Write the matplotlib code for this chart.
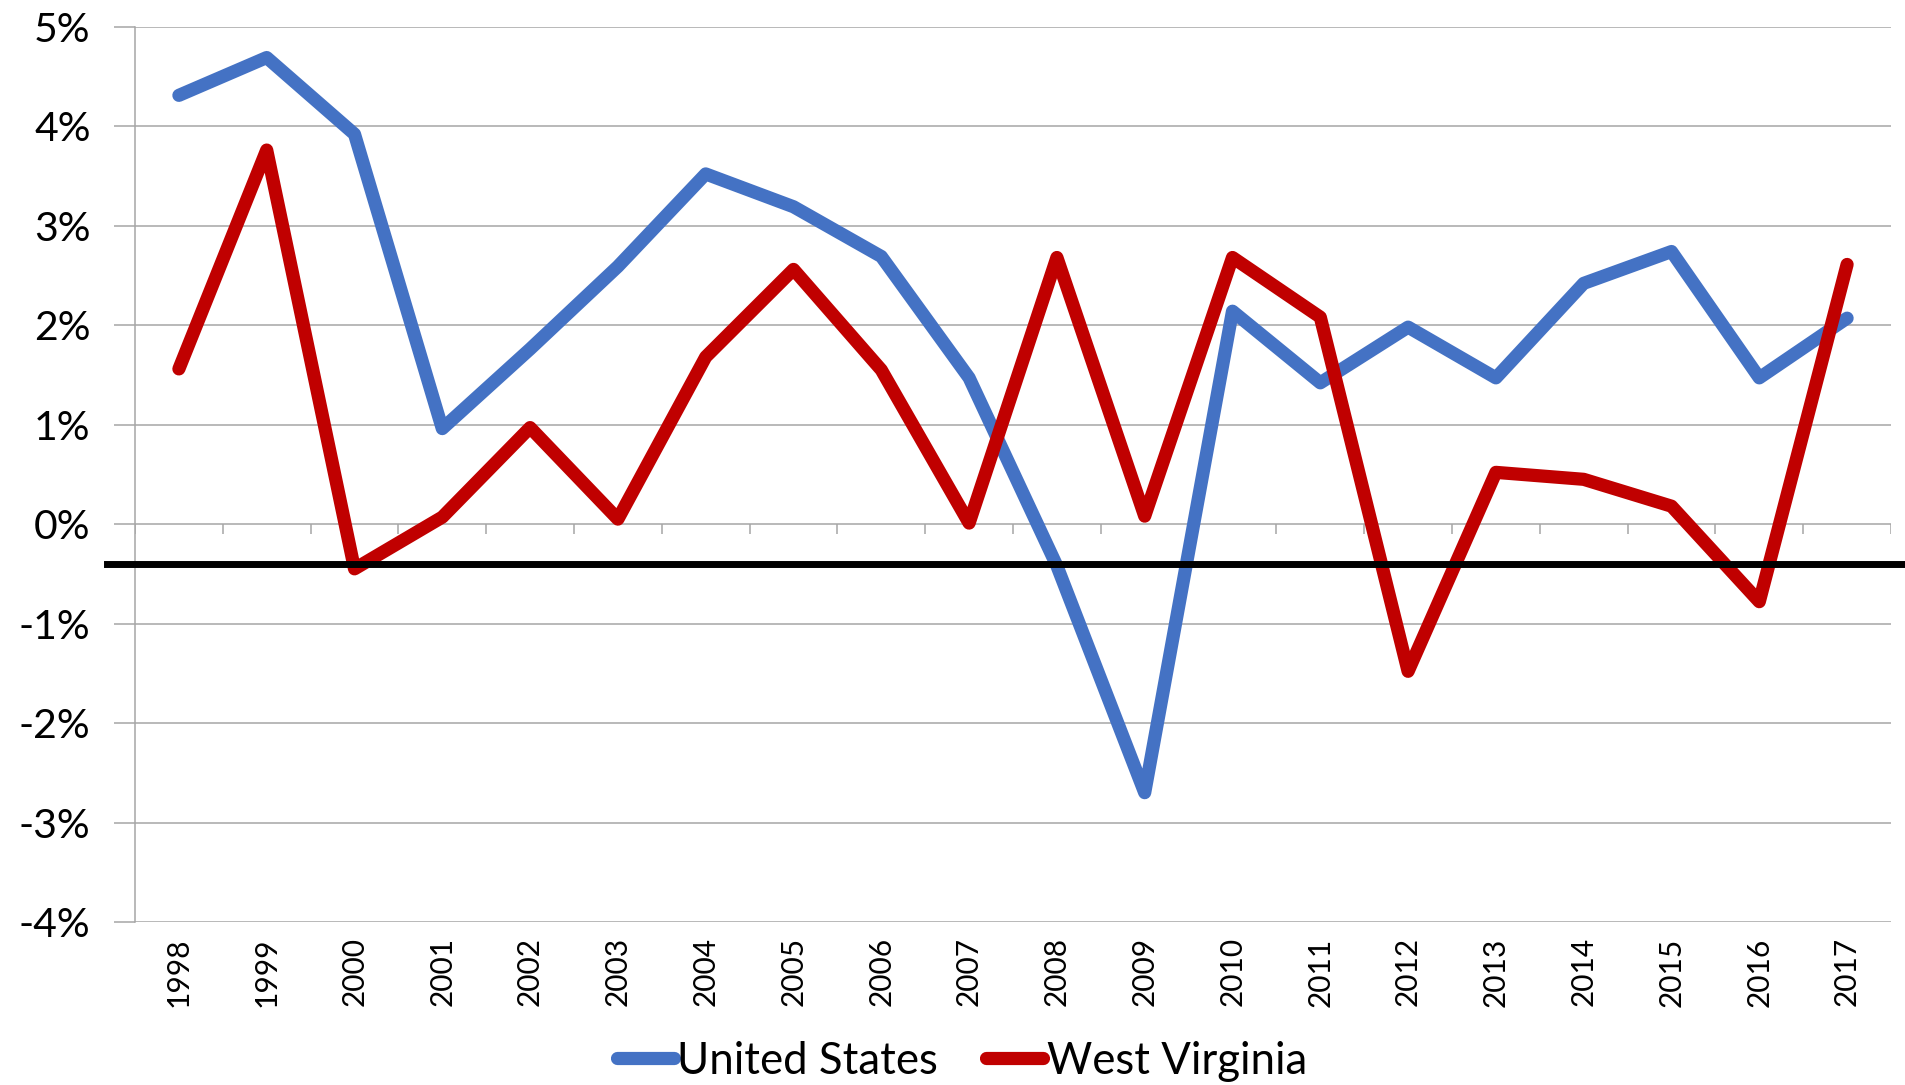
import matplotlib
matplotlib.use('Agg')
import matplotlib.pyplot as plt
from matplotlib.ticker import FuncFormatter

# annual growth, percent
years = [str(y) for y in range(1998, 2018)]
us_growth = [4.31, 4.69, 3.92, 0.96, 1.76, 2.59, 3.52, 3.19, 2.69, 1.47,
             -0.42, -2.70, 2.14, 1.42, 1.98, 1.47, 2.42, 2.74, 1.47, 2.07]
wv_growth = [1.56, 3.76, -0.45, 0.07, 0.97, 0.05, 1.68, 2.56, 1.55, 0.01,
             2.68, 0.08, 2.68, 2.08, -1.48, 0.52, 0.45, 0.18, -0.78, 2.61]
series_names = ['United States', 'West Virginia']
reference_level = -0.4

BLUE = '#4472C4'
RED = '#C00000'
GRID = '#A6A6A6'

plt.rcParams['font.family'] = ['Lato', 'DejaVu Sans']

fig = plt.figure(figsize=(19.05, 10.85), dpi=100)
ax = fig.add_axes([135 / 1905, 1 - 922 / 1085, 1756 / 1905, (922 - 26.7) / 1085])

x = list(range(len(years)))
line_kw = dict(linewidth=9.5, solid_capstyle='round', solid_joinstyle='round')
ax.plot(x, us_growth, color=BLUE, label=series_names[0], zorder=3, **line_kw)
ax.plot(x, wv_growth, color=RED, label=series_names[1], zorder=3, **line_kw)

# black reference line that runs past the plot area
ax.axhline(reference_level, xmin=-0.016, xmax=1.01, color='black',
           linewidth=5, clip_on=False, zorder=4)

ax.set_xlim(-0.5, len(years) - 0.5)
ax.set_ylim(-4, 5)
ax.set_yticks(range(-4, 6))
ax.yaxis.set_major_formatter(FuncFormatter(lambda v, p: f'{int(v)}%'))
ax.grid(axis='y', color=GRID, linewidth=1.1)
ax.set_axisbelow(True)

for side in ['top', 'right', 'bottom']:
    ax.spines[side].set_visible(False)
ax.spines['left'].set_color(GRID)
ax.spines['left'].set_linewidth(1.1)

ax.tick_params(axis='y', length=15, width=1.1, color=GRID, pad=17,
               labelsize=29.5)
ax.set_xticks(x)
ax.set_xticklabels(years, rotation=90, fontsize=21.5, va='top')
ax.tick_params(axis='x', length=0, pad=11)

# category axis tick marks along the 0% line
bounds = [i - 0.5 for i in range(len(years) + 1)]
ax.vlines(bounds, -0.1, 0, color=GRID, linewidth=1.1, zorder=2)

leg = fig.legend(loc='center', bbox_to_anchor=(0.505, 0.022), ncol=2,
                 frameon=False, fontsize=31.5, handlelength=1.3,
                 handletextpad=0.08, columnspacing=1.1)
for h in leg.get_lines():
    h.set_linewidth(9.5)
    h.set_solid_capstyle('round')

fig.savefig('out.png', dpi=100)
